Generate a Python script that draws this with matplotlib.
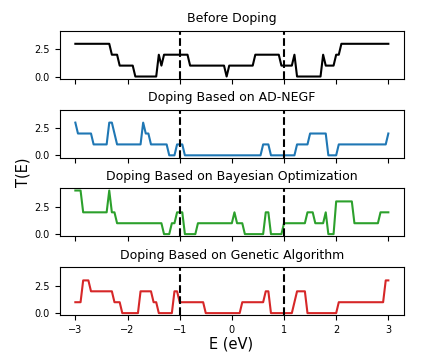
import matplotlib
matplotlib.use('Agg')
import matplotlib.pyplot as plt

# Vertices (energy in eV, transmission)
before_E = [-3.0, -2.35, -2.30, -2.20, -2.15, -1.90, -1.85, -1.45, -1.40, -1.35, -1.30,
            -0.85, -0.80, -0.15, -0.10, -0.05, 0.40, 0.45, 0.90, 0.95, 1.15, 1.20, 1.25,
            1.70, 1.75, 1.80, 1.95, 2.00, 2.05, 2.10, 3.0]
before_T = [3, 3, 2, 2, 1, 1, 0, 0, 2, 1, 2,
            2, 1, 1, 0, 1, 1, 2, 2, 1, 1, 2, 0,
            0, 2, 1, 1, 2, 2, 3, 3]

adnegf_E = [-3.0, -2.95, -2.70, -2.65, -2.40, -2.35, -2.30, -2.25, -2.20, -1.75, -1.70,
            -1.65, -1.60, -1.55, -1.25, -1.20, -1.10, -1.05, -0.95, -0.90, 0.55, 0.60,
            0.70, 0.75, 1.20, 1.25, 1.45, 1.50, 1.80, 1.85, 2.00, 2.05, 2.95, 3.0]
adnegf_T = [3, 2, 2, 1, 1, 3, 3, 2, 1, 1, 3,
            2, 2, 1, 1, 0, 0, 1, 1, 0, 0, 1,
            1, 0, 0, 1, 1, 2, 2, 0, 0, 1, 1, 2]

bayes_E = [-3.0, -2.90, -2.85, -2.40, -2.35, -2.30, -2.25, -2.20, -1.35, -1.30, -1.20,
           -1.15, -1.10, -1.05, -0.95, -0.90, -0.70, -0.65, 0.00, 0.05, 0.10, 0.20,
           0.25, 0.60, 0.65, 0.70, 0.75, 0.95, 1.00, 1.40, 1.45, 1.55, 1.60, 1.75,
           1.80, 1.85, 1.95, 2.00, 2.30, 2.35, 2.80, 2.85, 3.0]
bayes_T = [4, 4, 2, 2, 4, 2, 2, 1, 1, 0, 0,
           1, 1, 2, 2, 0, 0, 1, 1, 2, 1, 1,
           0, 0, 2, 2, 0, 0, 1, 1, 2, 2, 1, 1,
           2, 0, 0, 3, 3, 1, 1, 2, 2]

genetic_E = [-3.0, -2.90, -2.85, -2.75, -2.70, -2.30, -2.25, -2.15, -2.10, -1.80, -1.75,
             -1.55, -1.50, -1.45, -1.40, -1.15, -1.10, -1.05, -1.00, -0.55, -0.50, 0.15,
             0.20, 0.60, 0.65, 0.70, 0.75, 1.15, 1.20, 1.25, 1.40, 1.45, 2.00, 2.05,
             2.90, 2.95, 3.0]
genetic_T = [1, 1, 3, 3, 2, 2, 1, 1, 0, 0, 2,
             2, 1, 1, 0, 0, 2, 2, 1, 1, 0, 0,
             1, 1, 2, 2, 0, 0, 1, 2, 2, 0, 0, 1,
             1, 3, 3]

titles = ['Before Doping', 'Doping Based on AD-NEGF',
          'Doping Based on Bayesian Optimization', 'Doping Based on Genetic Algorithm']
series = [(before_E, before_T), (adnegf_E, adnegf_T), (bayes_E, bayes_T), (genetic_E, genetic_T)]
colors = ['black', 'tab:blue', 'tab:green', 'tab:red']

fig = plt.figure(figsize=(4.24, 3.63), dpi=100)
left, width, height = 0.1408, 0.812, 0.1322
bottoms = [0.7832, 0.5661, 0.3490, 0.1314]

axes = []
for i in range(4):
    share = axes[0] if axes else None
    ax = fig.add_axes([left, bottoms[i], width, height], sharex=share, sharey=share)
    axes.append(ax)

for i, ax in enumerate(axes):
    E, T = series[i]
    ax.plot(E, T, color=colors[i], lw=1.5)
    ax.axvline(-1, color='black', ls='--', lw=1.5)
    ax.axvline(1, color='black', ls='--', lw=1.5)
    ax.set_title(titles[i], fontsize=9)
    ax.tick_params(labelsize=7)
    if i < 3:
        ax.tick_params(labelbottom=False)

axes[0].set_yticks([0.0, 2.5])
axes[0].set_xticks([-3, -2, -1, 0, 1, 2, 3])

fig.text(0.055, 0.525, 'T(E)', rotation=90, ha='center', va='center', fontsize=10.5)
fig.text(0.546, 0.052, 'E (eV)', ha='center', va='center', fontsize=10.5)

fig.savefig('out.png', dpi=100)
